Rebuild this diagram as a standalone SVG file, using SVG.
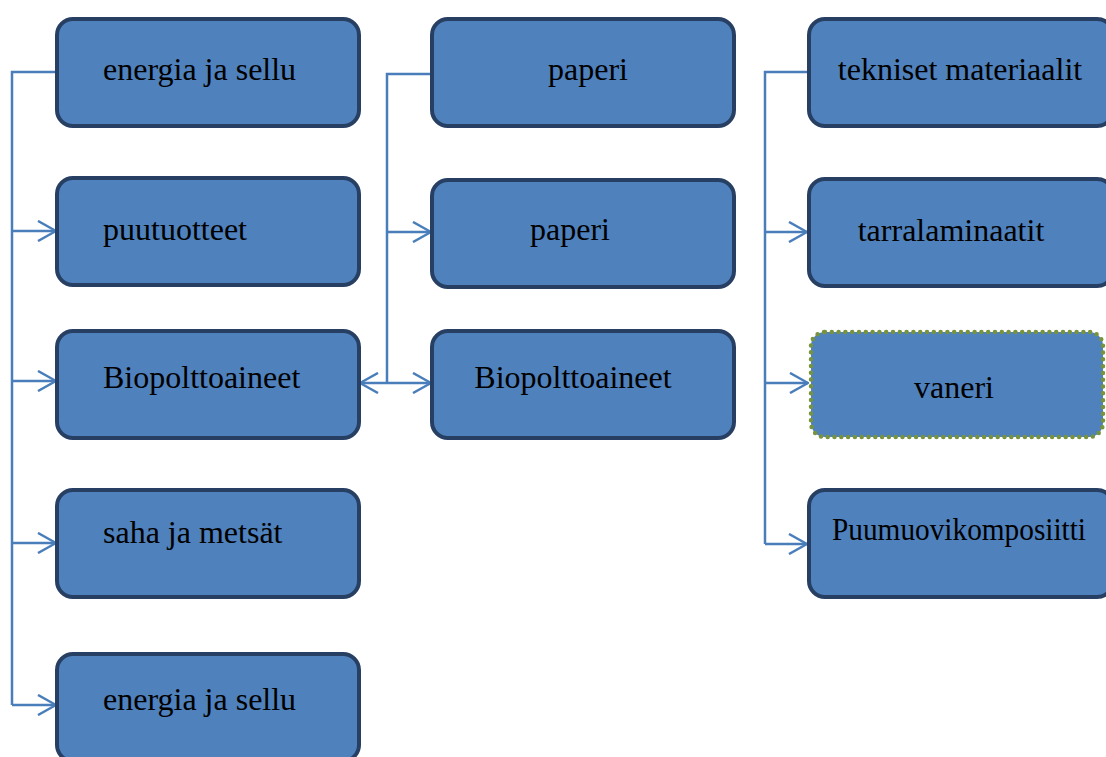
<svg xmlns="http://www.w3.org/2000/svg" width="1106" height="757" viewBox="0 0 1106 757">
<style>
.box{fill:#4F81BD;stroke:#263F63;stroke-width:4}
.dot{fill:#4F81BD;stroke:#77933C;stroke-width:4.5;stroke-dasharray:0 6.8;stroke-linecap:round}
.t{font-family:"Liberation Serif","Times New Roman",serif;font-size:32px;fill:#000}
.c{fill:none;stroke:#4A7EBB;stroke-width:2.5}
</style>
<defs>
<marker id="ah" viewBox="0 0 20 22" refX="19" refY="11" markerWidth="20" markerHeight="22" markerUnits="userSpaceOnUse" orient="auto-start-reverse">
<path d="M1,1 L19,11 L1,21" fill="none" stroke="#4A7EBB" stroke-width="2.5"/>
</marker>
</defs>
<g id="connectors">
<path class="c" d="M57,72 H12 V705"/>
<path class="c" d="M12,231 H56" marker-end="url(#ah)"/>
<path class="c" d="M12,381 H56" marker-end="url(#ah)"/>
<path class="c" d="M12,543 H56" marker-end="url(#ah)"/>
<path class="c" d="M12,705 H56" marker-end="url(#ah)"/>
<path class="c" d="M432,74 H387 V383"/>
<path class="c" d="M387,232 H431" marker-end="url(#ah)"/>
<path class="c" d="M360,383 H431" marker-start="url(#ah)" marker-end="url(#ah)"/>
<path class="c" d="M808,72 H765 V544"/>
<path class="c" d="M765,232 H807" marker-end="url(#ah)"/>
<path class="c" d="M765,383 H808" marker-end="url(#ah)"/>
<path class="c" d="M765,544 H807" marker-end="url(#ah)"/>
</g>
<g id="n1"><rect class="box" x="57" y="19" width="302" height="107" rx="16"/><text class="t" x="103" y="80">energia ja sellu</text></g>
<g id="n2"><rect class="box" x="57" y="178" width="302" height="107" rx="16"/><text class="t" x="103" y="240">puutuotteet</text></g>
<g id="n3"><rect class="box" x="57" y="331" width="302" height="107" rx="16"/><text class="t" x="103" y="388">Biopolttoaineet</text></g>
<g id="n4"><rect class="box" x="57" y="490" width="302" height="107" rx="16"/><text class="t" x="103" y="543">saha ja metsät</text></g>
<g id="n5"><rect class="box" x="57" y="654" width="302" height="107" rx="16"/><text class="t" x="103" y="710">energia ja sellu</text></g>
<g id="n6"><rect class="box" x="432" y="19" width="302" height="107" rx="16"/><text class="t" x="588" y="80" text-anchor="middle">paperi</text></g>
<g id="n7"><rect class="box" x="432" y="180" width="302" height="107" rx="16"/><text class="t" x="570" y="240" text-anchor="middle">paperi</text></g>
<g id="n8"><rect class="box" x="432" y="331" width="302" height="107" rx="16"/><text class="t" x="573" y="388" text-anchor="middle">Biopolttoaineet</text></g>
<g id="n9"><rect class="box" x="809" y="19" width="304" height="107" rx="16"/><text class="t" x="960" y="80" text-anchor="middle">tekniset materiaalit</text></g>
<g id="n10"><rect class="box" x="809" y="179" width="304" height="107" rx="16"/><text class="t" x="951" y="241" text-anchor="middle">tarralaminaatit</text></g>
<g id="n11"><rect class="dot" x="811" y="332" width="292" height="105" rx="14"/><text class="t" x="954" y="398" text-anchor="middle">vaneri</text></g>
<g id="n12"><rect class="box" x="809" y="490" width="304" height="107" rx="16"/><text class="t" x="959" y="540" text-anchor="middle" textLength="254" lengthAdjust="spacingAndGlyphs">Puumuovikomposiitti</text></g>
</svg>
